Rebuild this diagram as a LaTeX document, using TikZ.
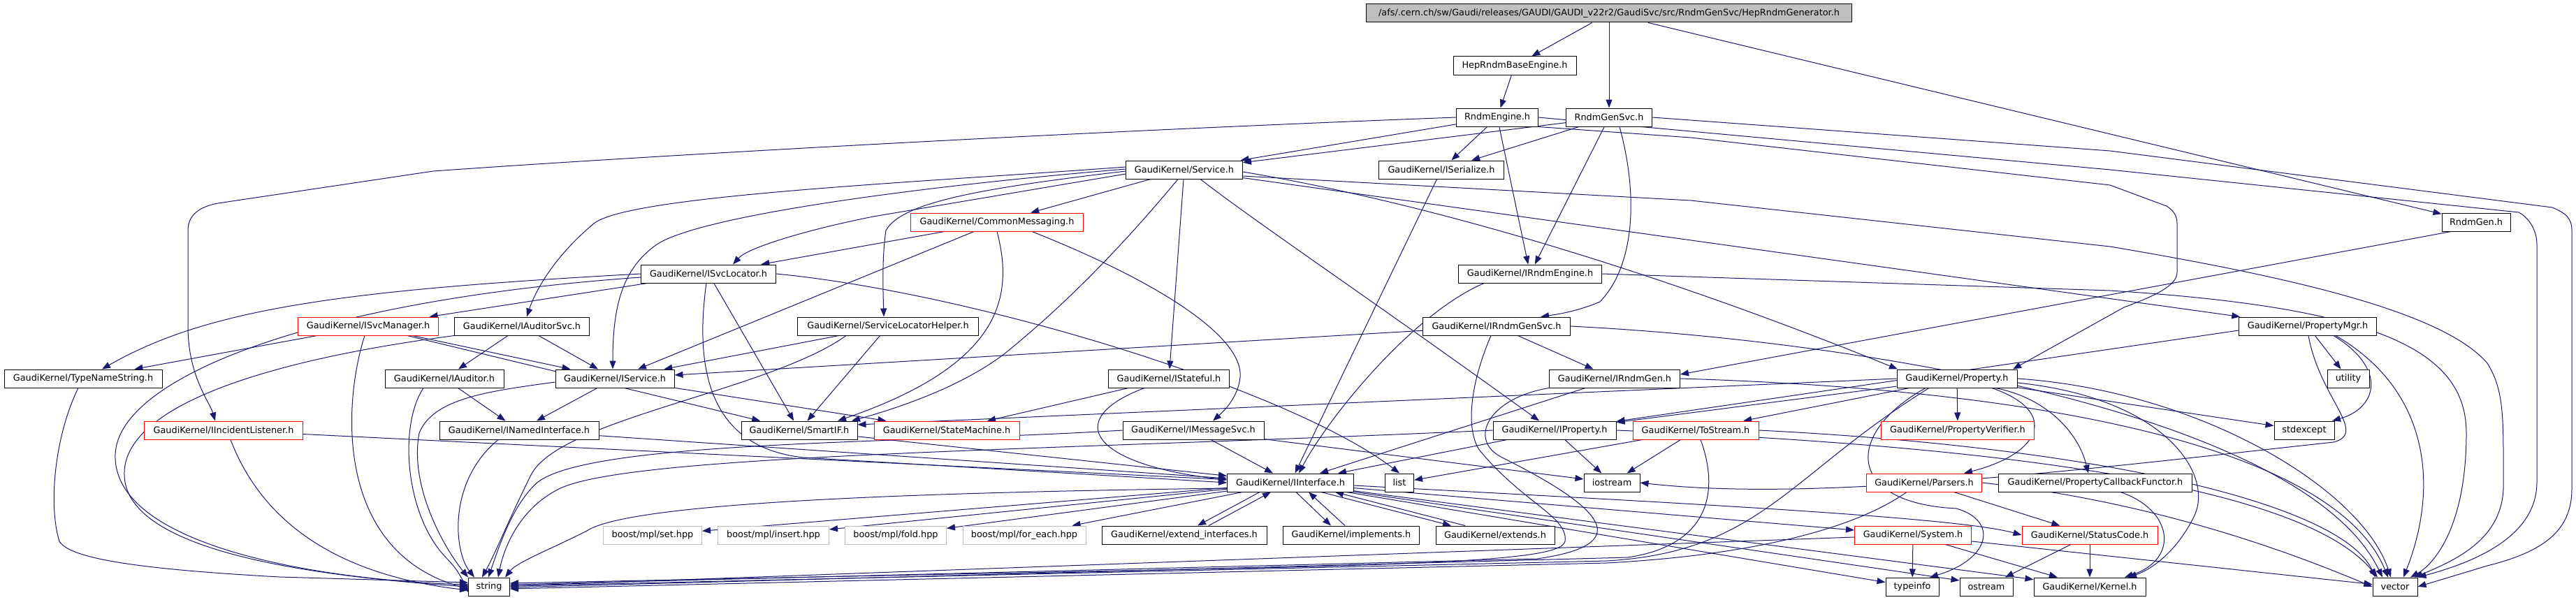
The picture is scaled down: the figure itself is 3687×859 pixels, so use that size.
\documentclass[tikz,border=0pt]{standalone}
\usepackage{fontspec}
\setmainfont{DejaVu Sans}
\usetikzlibrary{arrows.meta}
\definecolor{mblue}{HTML}{191970}
\definecolor{gfill}{HTML}{BFBFBF}
\pgfdeclarelayer{bg}
\pgfsetlayers{bg,main}
\begin{document}
\begin{tikzpicture}[x=1pt,y=-1pt,
  box/.style={draw=black, fill=white, line width=1pt, minimum height=26pt, inner xsep=2pt, inner ysep=0pt, font=\fontsize{12.85pt}{15pt}\selectfont, text=black},
  rbox/.style={box, draw=red},
  gbox/.style={box, draw=gfill},
  rootbox/.style={box, fill=gfill},
  e/.style={draw=mblue, line width=1pt, -{Triangle[length=12pt,width=9pt]}}
]
\useasboundingbox (0,0) rectangle (3687,859);
% nodes
\node[rootbox, minimum width=695] (root) at (2303,19) {/afs/.cern.ch/sw/Gaudi/releases/GAUDI/GAUDI\_v22r2/GaudiSvc/src/RndmGenSvc/HepRndmGenerator.h};
\node[box, minimum width=176] (hrbe) at (2168,94) {HepRndmBaseEngine.h};
\node[box, minimum width=117] (re) at (2143,168) {RndmEngine.h};
\node[box, minimum width=123] (rgs) at (2303,168) {RndmGenSvc.h};
\node[box, minimum width=179] (iser) at (2063,243) {GaudiKernel/ISerialize.h};
\node[box, minimum width=167] (svc) at (1695,243) {GaudiKernel/Service.h};
\node[rbox, minimum width=247] (cm) at (1427,318) {GaudiKernel/CommonMessaging.h};
\node[box, minimum width=98] (rg) at (3544,318) {RndmGen.h};
\node[box, minimum width=205] (ire) at (2190,392) {GaudiKernel/IRndmEngine.h};
\node[box, minimum width=193] (isl) at (1014,392) {GaudiKernel/ISvcLocator.h};
\node[rbox, minimum width=201] (ism) at (527,467) {GaudiKernel/ISvcManager.h};
\node[box, minimum width=193] (ias) at (747,467) {GaudiKernel/IAuditorSvc.h};
\node[box, minimum width=259] (slh) at (1271,467) {GaudiKernel/ServiceLocatorHelper.h};
\node[box, minimum width=211] (irgs) at (2142,467) {GaudiKernel/IRndmGenSvc.h};
\node[box, minimum width=197] (pmgr) at (3303,467) {GaudiKernel/PropertyMgr.h};
\node[box, minimum width=226] (tns) at (119,542) {GaudiKernel/TypeNameString.h};
\node[box, minimum width=170] (iaud) at (636,542) {GaudiKernel/IAuditor.h};
\node[box, minimum width=170] (is) at (880,542) {GaudiKernel/IService.h};
\node[box, minimum width=173] (istf) at (1673,542) {GaudiKernel/IStateful.h};
\node[box, minimum width=187] (irg) at (2311,542) {GaudiKernel/IRndmGen.h};
\node[box, minimum width=172] (prop) at (2801,542) {GaudiKernel/Property.h};
\node[box, minimum width=60] (util) at (3361,542) {utility};
\node[rbox, minimum width=227] (iil) at (320,616) {GaudiKernel/IIncidentListener.h};
\node[box, minimum width=228] (ini) at (743,616) {GaudiKernel/INamedInterface.h};
\node[box, minimum width=166] (sif) at (1144,616) {GaudiKernel/SmartIF.h};
\node[rbox, minimum width=208] (sm) at (1355,616) {GaudiKernel/StateMachine.h};
\node[box, minimum width=202] (ims) at (1708,616) {GaudiKernel/IMessageSvc.h};
\node[box, minimum width=176] (ip) at (2225,616) {GaudiKernel/IProperty.h};
\node[rbox, minimum width=180] (ts) at (2427,616) {GaudiKernel/ToStream.h};
\node[rbox, minimum width=219] (pv) at (2802,616) {GaudiKernel/PropertyVerifier.h};
\node[box, minimum width=86] (stdx) at (3298,616) {stdexcept};
\node[box, minimum width=181] (ii) at (1847,691) {GaudiKernel/IInterface.h};
\node[box, minimum width=41] (list) at (2003,691) {list};
\node[box, minimum width=80] (ios) at (2307,691) {iostream};
\node[rbox, minimum width=165] (pars) at (2754,691) {GaudiKernel/Parsers.h};
\node[box, minimum width=277] (pcf) at (2999,691) {GaudiKernel/PropertyCallbackFunctor.h};
\node[gbox, minimum width=141] (set) at (934,766) {boost/mpl/set.hpp};
\node[gbox, minimum width=159] (ins) at (1107,766) {boost/mpl/insert.hpp};
\node[gbox, minimum width=145] (fold) at (1282,766) {boost/mpl/fold.hpp};
\node[gbox, minimum width=176] (fe) at (1466,766) {boost/mpl/for\_each.hpp};
\node[box, minimum width=236] (ext) at (1695,766) {GaudiKernel/extend\_interfaces.h};
\node[box, minimum width=195] (impl) at (1934,766) {GaudiKernel/implements.h};
\node[box, minimum width=170] (exts) at (2140,766) {GaudiKernel/extends.h};
\node[rbox, minimum width=167] (sys) at (2738,766) {GaudiKernel/System.h};
\node[rbox, minimum width=194] (sc) at (2991,766) {GaudiKernel/StatusCode.h};
\node[box, minimum width=59] (str) at (700,840) {string};
\node[box, minimum width=76] (tinfo) at (2737,840) {typeinfo};
\node[box, minimum width=76] (ostr) at (2843,840) {ostream};
\node[box, minimum width=160] (kern) at (2991,840) {GaudiKernel/Kernel.h};
\node[box, minimum width=64] (vec) at (3428,840) {vector};

\begin{pgfonlayer}{bg}
\fill[white] (0,0) rectangle (3687,859);
% top level
\draw[e] (root) -- (hrbe);
\draw[e] (root) -- (rgs);
\draw[e] (root) -- (rg);
\draw[e] (hrbe) -- (re);
% RndmEngine
\draw[e] (re.west) .. controls (1500,190) and (900,225) .. (620,245) -- (312,291) .. controls (285,296) and (269,308) .. (269,330) -- (269,470) .. controls (270,540) and (300,575) .. ([xshift=-12]iil.north);
\draw[e] (re) -- (svc);
\draw[e] (re) -- (iser);
\draw[e] (re) -- (ire);
\draw[e] (re.south east) -- (2420,197) -- (3020,265) -- (3101,295) .. controls (3112,302) and (3116,310) .. (3116,320) -- (3116,390) .. controls (3116,410) and (3080,425) .. (3040,440) -- ([xshift=80]prop.north);
\draw[e] (re.east) -- (3020,243) -- (3605,304) .. controls (3620,312) and (3631,330) .. (3631,350) -- (3631,690) .. controls (3631,760) and (3560,800) .. (vec.north east);
% RndmGenSvc
\draw[e] (rgs.east) -- (3020,216) -- (3653,297) .. controls (3672,305) and (3681,312) .. (3681,330) -- (3681,700) .. controls (3681,760) and (3640,790) .. (3560,810) -- (vec.east);
\draw[e] (rgs) -- (svc);
\draw[e] (rgs) -- (iser);
\draw[e] (rgs) -- (ire);
\draw[e] ([xshift=15]rgs.south) .. controls (2345,280) and (2340,380) .. (2290,432) .. controls (2260,445) and (2230,450) .. ([xshift=63]irgs.north);
% RndmGen
\draw[e] ([xshift=-36]rg.south) -- ([yshift=6]irg.east);
% Service
\draw[e] (svc) -- (cm);
\draw[e] ([yshift=-6]svc.west) -- (1250,310) .. controls (1150,330) and (1070,355) .. ([xshift=35]isl.north);
\draw[e] ([yshift=4]svc.west) .. controls (1300,262) and (900,280) .. (850,320) .. controls (790,370) and (765,420) .. ([xshift=7]ias.north);
\draw[e] ([yshift=1]svc.west) .. controls (1300,268) and (1000,310) .. (940,350) .. controls (890,385) and (877,440) .. ([xshift=-3]is.north);
\draw[e] ([yshift=-2]svc.west) .. controls (1400,270) and (1290,290) .. (1268,330) .. controls (1262,370) and (1264,420) .. ([xshift=-6]slh.north);
\draw[e] ([xshift=-9]svc.south) .. controls (1600,360) and (1520,440) .. (1437,507) .. controls (1380,550) and (1300,580) .. ([xshift=75]sif.north);
\draw[e] (svc) -- (istf);
\draw[e] ([xshift=23]svc.south) .. controls (1800,320) and (1950,420) .. ([xshift=-22]ip.north);
\draw[e] ([yshift=-3]svc.east) .. controls (2100,300) and (2450,420) .. ([xshift=-85]prop.north);
\draw[e] (svc) -- (pmgr);
\draw[e] ([yshift=-9]svc.east) -- (2420,287) -- (3020,353) .. controls (3300,400) and (3500,450) .. (3560,520) .. controls (3585,560) and (3583,600) .. (3583,700) .. controls (3580,770) and (3520,800) .. ([xshift=-5]vec.north east);
% CommonMessaging
\draw[e] (cm) -- (isl);
\draw[e] (cm) -- (is);
\draw[e] (cm.south) .. controls (1450,420) and (1440,520) .. ([xshift=55]sif.north);
\draw[e] ([xshift=50]cm.south) .. controls (1650,400) and (1780,480) .. (1775,540) .. controls (1772,570) and (1750,590) .. ([xshift=28]ims.north);
% ISvcLocator
\draw[e] (isl) -- (ism);
\draw[e] (isl.west) .. controls (500,415) and (300,440) .. ([xshift=27]tns.north);
\draw[e] ([yshift=-5]isl.west) .. controls (450,430) and (170,540) .. (165,650) .. controls (160,780) and (450,830) .. ([yshift=3]str.west);
\draw[e] (isl) -- (sif);
\draw[e] ([xshift=-3]isl.south) .. controls (995,520) and (1010,640) .. (1150,655) -- (ii.west);
\draw[e] (isl.east) .. controls (1400,420) and (1850,560) .. (list.north);
% ISvcManager
\draw[e] (ism) -- (tns);
\draw[e] (ism) -- (is);
\draw[e] (ism) -- (sif);
\draw[e] ([xshift=-5]ism.south) .. controls (490,580) and (480,790) .. ([yshift=-3]str.west);
% IAuditorSvc
\draw[e] (ias) -- (is);
\draw[e] (ias) -- (iaud);
\draw[e] (ias.south west) .. controls (350,520) and (175,590) .. (178,680) .. controls (180,790) and (450,825) .. (str.west);
% ServiceLocatorHelper
\draw[e] (slh) -- (is);
\draw[e] (slh) -- (sif);
\draw[e] ([xshift=-60]slh.south) .. controls (1100,560) and (800,600) .. (760,680) .. controls (730,740) and (710,790) .. ([xshift=-10]str.north);
% IRndmGenSvc
\draw[e] (irgs) -- (is);
\draw[e] (irgs) -- (irg);
\draw[e] ([xshift=-8]irgs.south) .. controls (2100,560) and (2100,620) .. (2118,645) .. controls (2180,720) and (2245,740) .. (2240,775) .. controls (2235,795) and (2150,805) .. (1800,813) -- ([yshift=5]str.east);
\draw[e] (irgs.east) .. controls (2700,490) and (3300,600) .. ([xshift=-18]vec.north);
% IRndmGen
\draw[e] (irg) -- (ii);
\draw[e] (irg.east) .. controls (3000,560) and (3350,660) .. ([xshift=-10]vec.north);
\draw[e] (irg.south west) .. controls (2130,570) and (2100,630) .. (2150,655) .. controls (2300,730) and (2340,780) .. (2200,800) -- ([yshift=3]str.east);
% IRndmEngine, ISerialize
\draw[e] ([xshift=-66]ire.south) .. controls (2020,450) and (1900,600) .. ([xshift=12]ii.north);
\draw[e] (ire.east) -- (3020,416) .. controls (3400,440) and (3530,500) .. (3530,620) .. controls (3530,760) and (3480,810) .. ([xshift=22]vec.north);
\draw[e] (iser) -- (ii);
% IProperty
\draw[e] (ip) -- (ii);
\draw[e] (ip) -- (ios);
\draw[e] (ip.west) .. controls (1500,645) and (900,650) .. (800,700) .. controls (740,730) and (720,790) .. ([xshift=13]str.north);
\draw[e] (ip.east) .. controls (2900,640) and (3300,700) .. ([xshift=-25]vec.north);
% Property
\draw[e] (prop) -- (ts);
\draw[e] (prop) -- (pv);
\draw[e] ([xshift=50]prop.south) .. controls (2950,590) and (2920,650) .. ([xshift=57]pars.north);
\draw[e] ([xshift=55]prop.south) .. controls (2930,570) and (2975,620) .. ([xshift=-10]pcf.north);
\draw[e] (prop) -- (ip);
\draw[e] (prop.west) -- ([yshift=8]sif.east);
\draw[e] ([xshift=-40]prop.south) .. controls (2560,680) and (2520,790) .. (2300,803) -- ([yshift=1]str.east);
\draw[e] ([xshift=-45]prop.south) .. controls (2640,620) and (2640,720) .. (2800,728) .. controls (2860,745) and (2850,800) .. ([xshift=25]tinfo.north);
\draw[e] (prop) -- (stdx);
\draw[e] (prop.east) .. controls (3150,560) and (3380,700) .. ([xshift=-6]vec.north);
\draw[e] ([yshift=-6]prop.east) .. controls (3100,570) and (3170,680) .. (3140,740) .. controls (3115,790) and (3080,815) .. ([xshift=55]kern.north);
% PropertyMgr
\draw[e] (pmgr) -- (util);
\draw[e] ([xshift=37]pmgr.south) .. controls (3420,530) and (3400,585) .. ([xshift=40]stdx.north);
\draw[e] ([xshift=40]pmgr.south) .. controls (3480,560) and (3490,700) .. ([xshift=12]vec.north);
\draw[e] ([xshift=1]pmgr.south) .. controls (3320,570) and (3390,620) .. (3340,633) .. controls (3000,670) and (2600,720) .. (ios.east);
\draw[e] ([yshift=-6]pmgr.west) -- (ip);
% ToStream
\draw[e] (ts) -- (ios);
\draw[e] (ts) -- (list);
\draw[e] ([xshift=7]ts.south) .. controls (2460,700) and (2450,780) .. (2330,798) -- ([yshift=-1]str.east);
\draw[e] (ts.east) .. controls (3000,640) and (3350,720) .. ([xshift=-28]vec.north);
% Parsers
\draw[e] (pars) -- (sc);
\draw[e] ([xshift=-25]pars.south) .. controls (2650,760) and (2500,795) .. (2300,806) -- ([yshift=-3]str.east);
\draw[e] (pars.east) .. controls (3100,720) and (3300,800) .. (vec.west);
% PropertyCallbackFunctor
\draw[e] ([xshift=36]pcf.south) .. controls (3110,730) and (3120,800) .. ([xshift=50]kern.north);
% System, StatusCode
\draw[e] (sys) -- (tinfo);
\draw[e] (sys) -- (kern);
\draw[e] (sys) -- (str);
\draw[e] (sys) -- (vec);
\draw[e] (sc) -- (ostr);
\draw[e] (sc) -- (kern);
% IInterface
\draw[e] (ii) -- (set);
\draw[e] (ii) -- (ins);
\draw[e] (ii) -- (fold);
\draw[e] (ii) -- (fe);
\draw[e] ([xshift=-44]ii.south) -- ([xshift=19]ext.north);
\draw[e] ([xshift=35]ext.north) -- ([xshift=-28]ii.south);
\draw[e] ([xshift=8]ii.south) -- ([xshift=-29]impl.north);
\draw[e] ([xshift=-9]impl.north) -- ([xshift=26]ii.south);
\draw[e] ([xshift=44]ii.south) -- ([xshift=-63]exts.north);
\draw[e] ([xshift=-43]exts.north) -- ([xshift=64]ii.south);
\draw[e] (ii) -- (sys);
\draw[e] ([yshift=-4]ii.east) .. controls (2400,720) and (2800,740) .. (sc.west);
\draw[e] (ii) -- (kern);
\draw[e] (ii) -- ([yshift=9]ostr.west);
\draw[e] (ii) -- (tinfo);
\draw[e] ([yshift=-8]ii.west) .. controls (1300,705) and (900,720) .. (840,760) .. controls (780,790) and (740,805) .. ([xshift=23]str.north);
% others
\draw[e] ([xshift=-7]tns.south) .. controls (80,620) and (68,720) .. (85,775) .. controls (100,800) and (200,815) .. (400,826) -- ([yshift=6]str.west);
\draw[e] (iil) -- (ii);
\draw[e] ([xshift=10]iil.south) .. controls (380,760) and (500,825) .. ([yshift=-5]str.west);
\draw[e] (iaud) -- (ini);
\draw[e] ([xshift=-30]iaud.south) .. controls (570,610) and (580,740) .. (640,800) .. controls (655,815) and (662,830) .. ([yshift=-8]str.west);
\draw[e] (is) -- (ini);
\draw[e] (is) -- (sm);
\draw[e] ([yshift=-5]is.west) .. controls (700,560) and (620,570) .. (600,620) .. controls (585,700) and (640,790) .. (str.north west);
\draw[e] (ini) -- (ii);
\draw[e] ([xshift=-30]ini.south) .. controls (640,690) and (650,790) .. ([xshift=-21]str.north);
\draw[e] (sif) -- (ii);
\draw[e] (istf) -- (sm);
\draw[e] ([xshift=-35]istf.south) .. controls (1520,600) and (1560,665) .. ([yshift=4]ii.west);
\draw[e] (ims) -- (ii);
\draw[e] (ims) -- (ios);
\draw[e] (ims.west) .. controls (1300,635) and (850,630) .. (770,690) .. controls (735,720) and (715,780) .. ([xshift=-1]str.north);
\end{pgfonlayer}
\end{tikzpicture}
\end{document}
